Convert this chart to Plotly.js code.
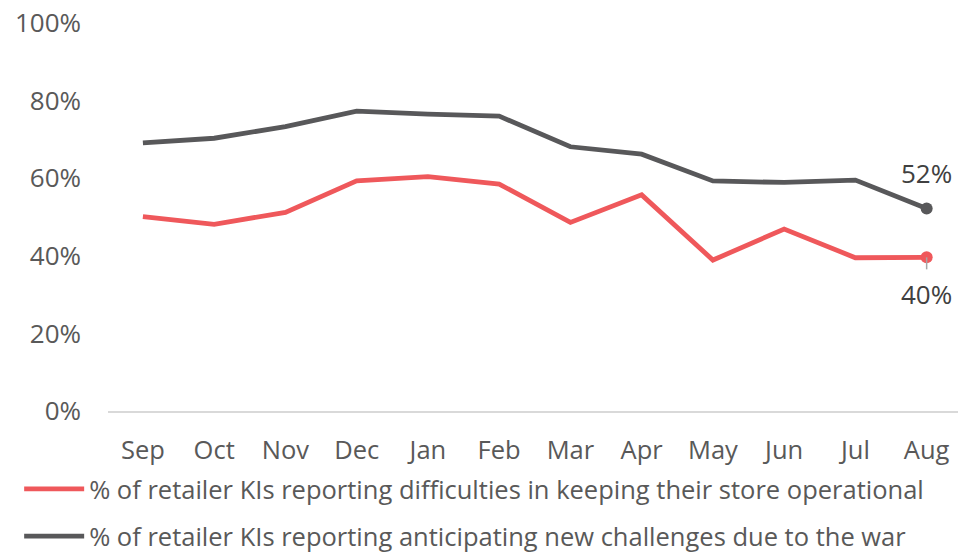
<!DOCTYPE html>
<html>
<head>
<meta charset="utf-8">
<script src="https://cdn.plot.ly/plotly-3.0.1.min.js"></script>
<style>html,body{margin:0;padding:0;background:#fff;}#chart{width:958px;height:552px;}</style>
</head>
<body>
<div id="chart"></div>
<script>
const months = ['Sep','Oct','Nov','Dec','Jan','Feb','Mar','Apr','May','Jun','Jul','Aug'];
const difficulties = [50.1, 48.1, 51.2, 59.3, 60.4, 58.5, 48.6, 55.7, 38.9, 46.9, 39.5, 39.6];
const challenges = [69.1, 70.3, 73.3, 77.3, 76.5, 76.0, 68.1, 66.2, 59.3, 58.9, 59.5, 52.2];
const seriesNames = [
  '% of retailer KIs reporting difficulties in keeping their store operational',
  '% of retailer KIs reporting anticipating new challenges due to the war'
];
const yTicks = [0, 20, 40, 60, 80, 100];

const RED = '#EF585B', GRAY = '#58585A';
const FONT = 'Open Sans, sans-serif';
const FS = 26;
const LFS = 25.5;
const last = months.length - 1;

const traces = [
  {x: months, y: difficulties, name: seriesNames[0], type: 'scatter', mode: 'lines',
   line: {color: RED, width: 4.8}, legendgroup: 'a', hoverinfo: 'skip'},
  {x: months, y: challenges, name: seriesNames[1], type: 'scatter', mode: 'lines',
   line: {color: GRAY, width: 4.8}, legendgroup: 'b', hoverinfo: 'skip'},
  {x: [months[last]], y: [difficulties[last]], type: 'scatter', mode: 'markers', showlegend: false,
   marker: {color: RED, size: 12}, hoverinfo: 'skip'},
  {x: [months[last]], y: [challenges[last]], type: 'scatter', mode: 'markers', showlegend: false,
   marker: {color: GRAY, size: 12}, hoverinfo: 'skip'}
];

const layout = {
  width: 958, height: 552,
  margin: {l: 108, r: 0, t: 23, b: 141, autoexpand: false},
  paper_bgcolor: '#fff', plot_bgcolor: '#fff',
  font: {family: FONT, size: FS, color: '#595959'},
  showlegend: true,
  legend: {xref: 'container', yref: 'container', x: 0.02, y: 0.156, xanchor: 'left', yanchor: 'top',
    orientation: 'v', traceorder: 'grouped', tracegroupgap: 11, itemwidth: 60,
    font: {family: FONT, size: LFS, color: '#595959'}, bgcolor: 'rgba(0,0,0,0)'},
  xaxis: {type: 'category', range: [-0.49, 11.44], showgrid: false, zeroline: false,
    showline: true, linecolor: '#D9D9D9', linewidth: 1.5, ticks: '', ticklabelstandoff: 16,
    tickangle: 0, tickfont: {family: FONT, size: 25.5, color: '#595959'}, fixedrange: true},
  yaxis: {range: [0, 100], tickvals: yTicks, ticktext: yTicks.map(v => v + '%'),
    showgrid: false, zeroline: false, showline: false, ticks: '', ticklabelstandoff: 26,
    tickfont: {family: FONT, size: FS, color: '#595959'}, fixedrange: true},
  annotations: [
    {x: months[last], y: challenges[last], text: Math.round(challenges[last]) + '%', showarrow: false,
     yshift: 35, font: {family: FONT, size: FS, color: '#404040'}},
    {x: months[last], y: difficulties[last], text: Math.round(difficulties[last]) + '%', showarrow: false,
     yshift: -37, font: {family: FONT, size: FS, color: '#404040'}}
  ],
  shapes: [
    {type: 'line', xref: 'x', yref: 'y', ysizemode: 'pixel', yanchor: difficulties[last],
     x0: months[last], x1: months[last], y0: 0, y1: -12, line: {color: '#A6A6A6', width: 1.5}}
  ]
};

Plotly.newPlot('chart', traces, layout, {displayModeBar: false, staticPlot: true});
</script>
</body>
</html>
